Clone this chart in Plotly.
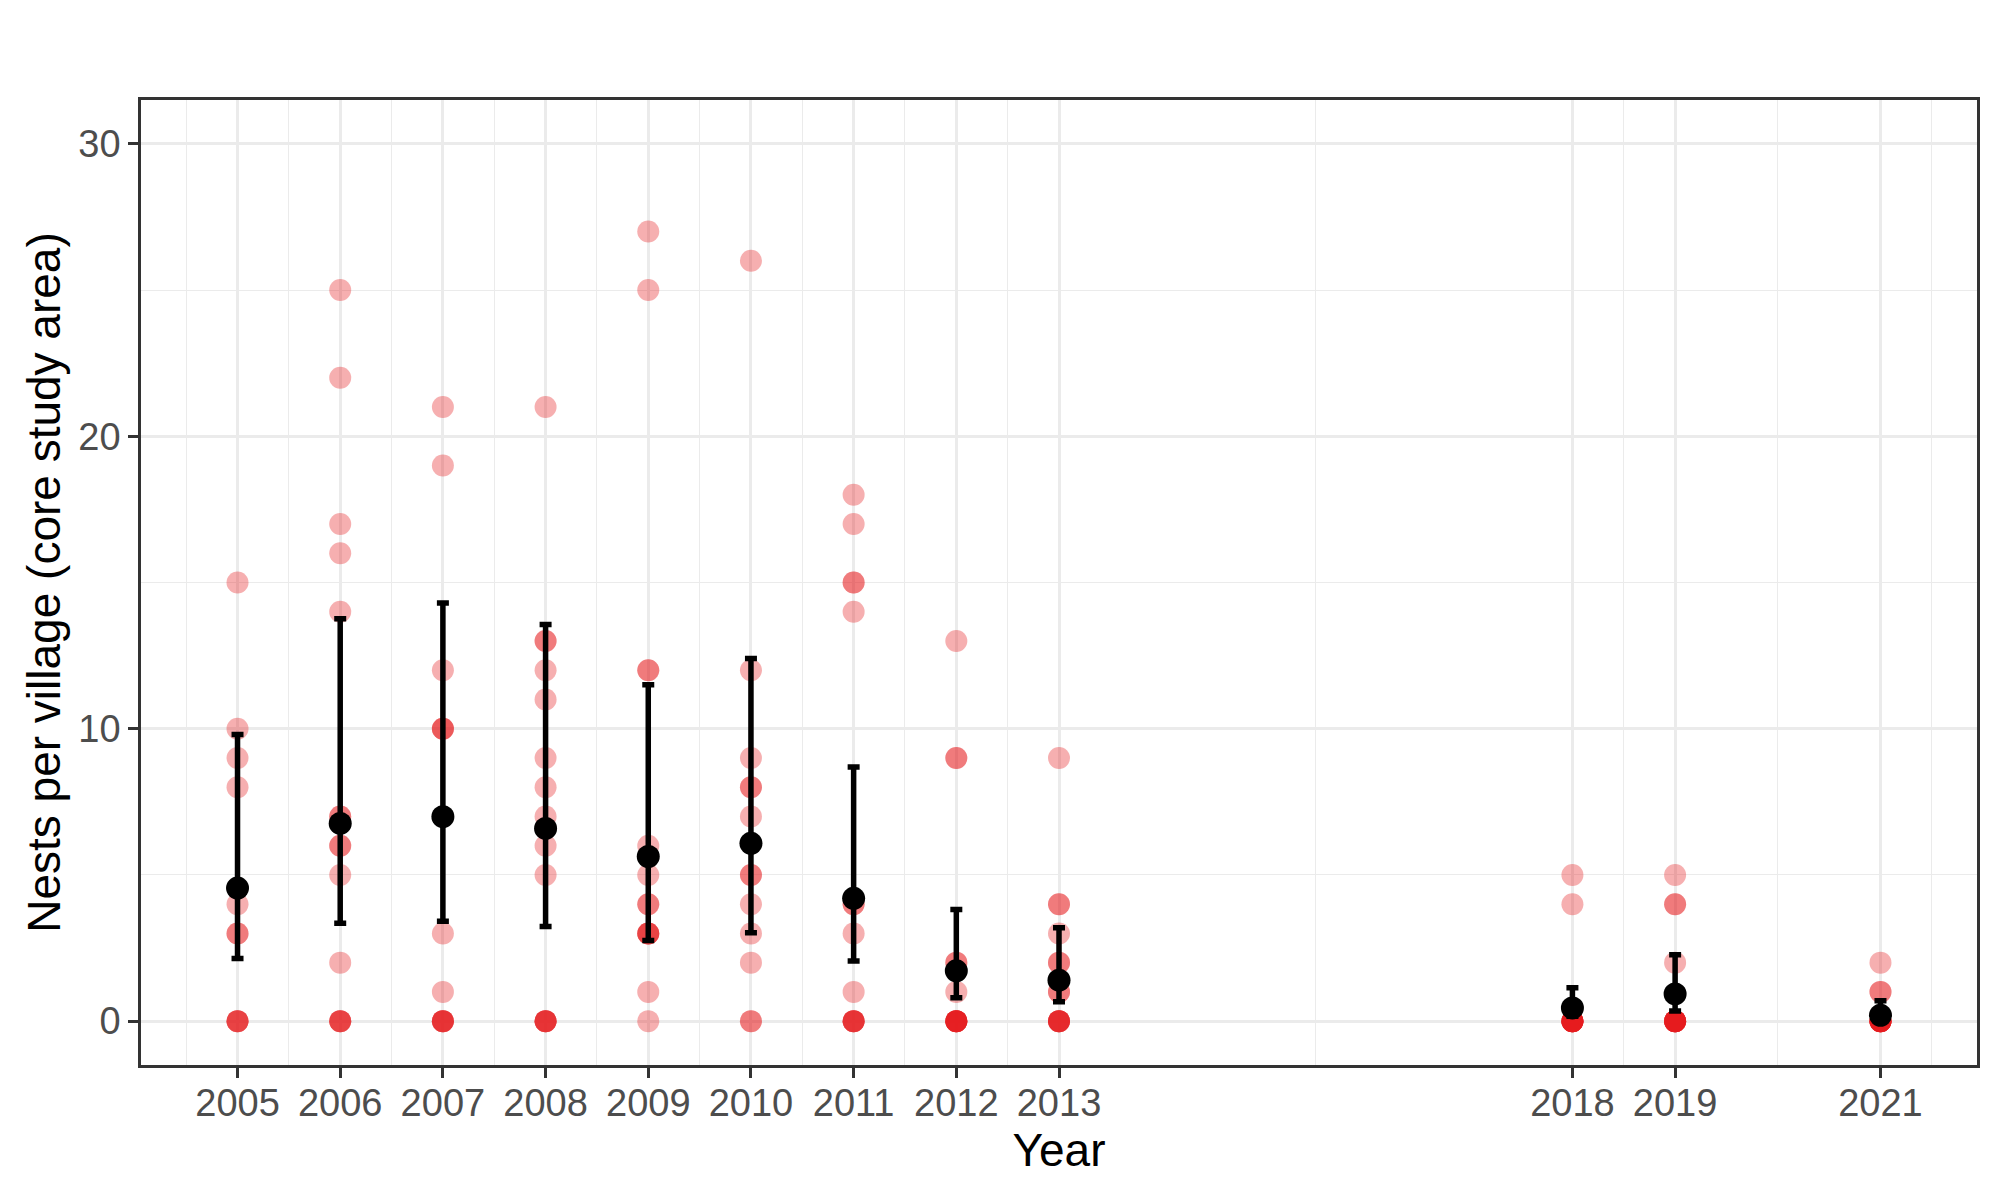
import plotly.graph_objects as go

# ---- data: individual village nest counts per year ----
nests_2005 = [15, 10, 9, 8, 4, 3, 3, 0, 0, 0, 0]
nests_2006 = [25, 22, 17, 16, 14, 7, 7, 6, 6, 5, 2, 0, 0, 0, 0]
nests_2007 = [21, 19, 12, 10, 10, 10, 3, 1, 0, 0, 0, 0, 0]
nests_2008 = [21, 13, 13, 12, 11, 9, 8, 7, 6, 5, 0, 0, 0, 0, 0]
nests_2009 = [27, 25, 12, 12, 6, 5, 4, 4, 3, 3, 3, 3, 1, 0]
nests_2010 = [26, 12, 9, 8, 8, 7, 5, 5, 4, 3, 2, 0, 0]
nests_2011 = [18, 17, 15, 15, 14, 4, 4, 3, 1, 0, 0, 0, 0, 0]
nests_2012 = [13, 9, 9, 2, 2, 1, 0, 0, 0, 0, 0, 0, 0, 0]
nests_2013 = [9, 4, 4, 3, 2, 2, 1, 1, 0, 0, 0, 0, 0, 0]
nests_2018 = [5, 4, 0, 0, 0, 0, 0, 0, 0, 0, 0, 0]
nests_2019 = [5, 4, 4, 2, 0, 0, 0, 0, 0, 0, 0, 0, 0, 0]
nests_2021 = [2, 1, 1, 0, 0, 0, 0, 0, 0, 0, 0, 0, 0]

years = [2005, 2006, 2007, 2008, 2009, 2010, 2011, 2012, 2013, 2018, 2019, 2021]
village_counts = [nests_2005, nests_2006, nests_2007, nests_2008, nests_2009, nests_2010,
                  nests_2011, nests_2012, nests_2013, nests_2018, nests_2019, nests_2021]

# ---- estimated mean and interval per year ----
mean_nests = [4.55, 6.76, 6.99, 6.59, 5.63, 6.08, 4.20, 1.72, 1.40, 0.45, 0.93, 0.20]
lower_ci = [2.14, 3.35, 3.42, 3.24, 2.76, 3.02, 2.06, 0.80, 0.66, 0.17, 0.35, 0.05]
upper_ci = [9.80, 13.76, 14.30, 13.56, 11.50, 12.40, 8.69, 3.82, 3.19, 1.14, 2.27, 0.70]

x_tick_labels = ["2005", "2006", "2007", "2008", "2009", "2010", "2011", "2012", "2013",
                 "2018", "2019", "2021"]
x_minor = [2004.5, 2005.5, 2006.5, 2007.5, 2008.5, 2009.5, 2010.5, 2011.5, 2012.5,
           2015.5, 2018.5, 2020, 2021.5]
y_ticks = [0, 10, 20, 30]
y_minor = [5, 15, 25]

# ---- build ----
px_x, px_y = [], []
for yr, vals in zip(years, village_counts):
    for v in vals:
        px_x.append(yr)
        px_y.append(v)

fig = go.Figure()
fig.add_trace(go.Scatter(
    x=px_x, y=px_y, mode="markers",
    marker=dict(size=22, color="rgba(228,26,28,0.35)", line=dict(width=0)),
    hoverinfo="skip", showlegend=False,
))
fig.add_trace(go.Scatter(
    x=years, y=mean_nests, mode="markers",
    marker=dict(size=23, color="black", line=dict(width=0)),
    error_y=dict(type="data", symmetric=False,
                 array=[u - m for u, m in zip(upper_ci, mean_nests)],
                 arrayminus=[m - l for m, l in zip(mean_nests, lower_ci)],
                 color="black", thickness=5.5, width=6),
    hoverinfo="skip", showlegend=False,
))

font_family = "Liberation Sans, Arial, sans-serif"
axis_common = dict(
    showline=True, mirror=True, linecolor="#333333", linewidth=2.5,
    ticks="outside", ticklen=10, tickwidth=2.5, tickcolor="#333333",
    showgrid=True, gridcolor="#EBEBEB", gridwidth=2.5,
    zeroline=False,
    tickfont=dict(family=font_family, size=38, color="#4D4D4D"),
)

fig.update_layout(
    width=1984, height=1184,
    paper_bgcolor="white", plot_bgcolor="white",
    margin=dict(l=133, r=15, t=92, b=127),
    showlegend=False,
    font=dict(family=font_family),
    xaxis=dict(
        **axis_common,
        range=[2004.06, 2021.94],
        tickmode="array", tickvals=years, ticktext=x_tick_labels,
        ticklabelstandoff=-7,
        minor=dict(tickmode="array", tickvals=x_minor, showgrid=True,
                   gridcolor="#EBEBEB", gridwidth=1.3, ticks=""),
        title=dict(text="Year", font=dict(family=font_family, size=46, color="black"),
                   standoff=10),
    ),
    yaxis=dict(
        **axis_common,
        range=[-1.5, 31.5],
        tickmode="array", tickvals=y_ticks, ticktext=[str(t) for t in y_ticks],
        minor=dict(tickmode="array", tickvals=y_minor, showgrid=True,
                   gridcolor="#EBEBEB", gridwidth=1.3, ticks=""),
        title=dict(text="Nests per village (core study area)",
                   font=dict(family=font_family, size=46, color="black"),
                   standoff=4),
    ),
)

fig.write_html("out.html", config={"displayModeBar": False})
